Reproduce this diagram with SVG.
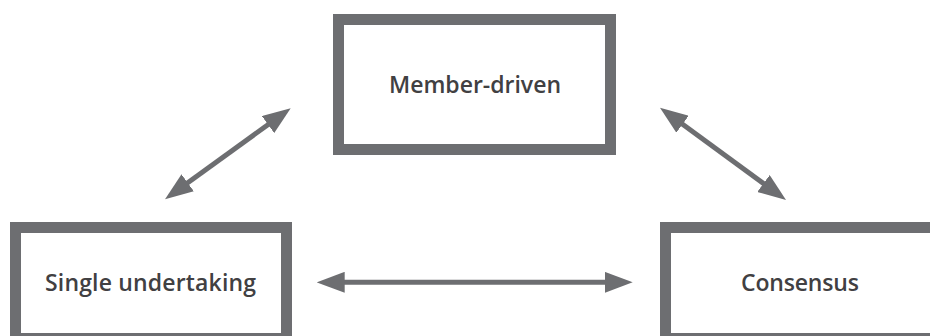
<svg xmlns="http://www.w3.org/2000/svg" width="930" height="336" viewBox="0 0 930 336">
  <style>
    .box { fill: #ffffff; stroke: #6d6e71; stroke-width: 11; }
    .label { font-family: "Open Sans", "Liberation Sans", sans-serif; font-weight: 600; font-size: 23px; fill: #414042; text-anchor: middle; }
    .link { stroke: #6d6e71; stroke-width: 5; fill: none; marker-start: url(#head); marker-end: url(#head); }
  </style>
  <defs>
    <!-- shared arrowhead, used at both ends of every connector -->
    <marker id="head" markerUnits="userSpaceOnUse" markerWidth="28" markerHeight="21" refX="8" refY="10.5" orient="auto-start-reverse" viewBox="0 0 28 21">
      <path d="M0,0 L28,10.5 L0,21 z" fill="#6d6e71"/>
    </marker>
  </defs>

  <rect width="930" height="336" fill="#ffffff"/>

  <g id="member-driven">
    <rect class="box" x="338.5" y="19.5" width="272" height="130"/>
    <text class="label" x="475" y="93" textLength="172">Member-driven</text>
  </g>

  <g id="single-undertaking">
    <rect class="box" x="15.5" y="227.5" width="271" height="111"/>
    <text class="label" x="150.5" y="291" textLength="211">Single undertaking</text>
  </g>

  <g id="consensus">
    <rect class="box" x="665.5" y="227.5" width="271" height="111"/>
    <text class="label" x="800" y="291" textLength="118">Consensus</text>
  </g>

  <g id="connectors">
    <line class="link" x1="181.2" y1="187.5" x2="274.5" y2="119.9"/>
    <line class="link" x1="676.1" y1="119.5" x2="769.9" y2="188.2"/>
    <line class="link" x1="336.7" y1="282.3" x2="612.7" y2="282.3"/>
  </g>
</svg>
